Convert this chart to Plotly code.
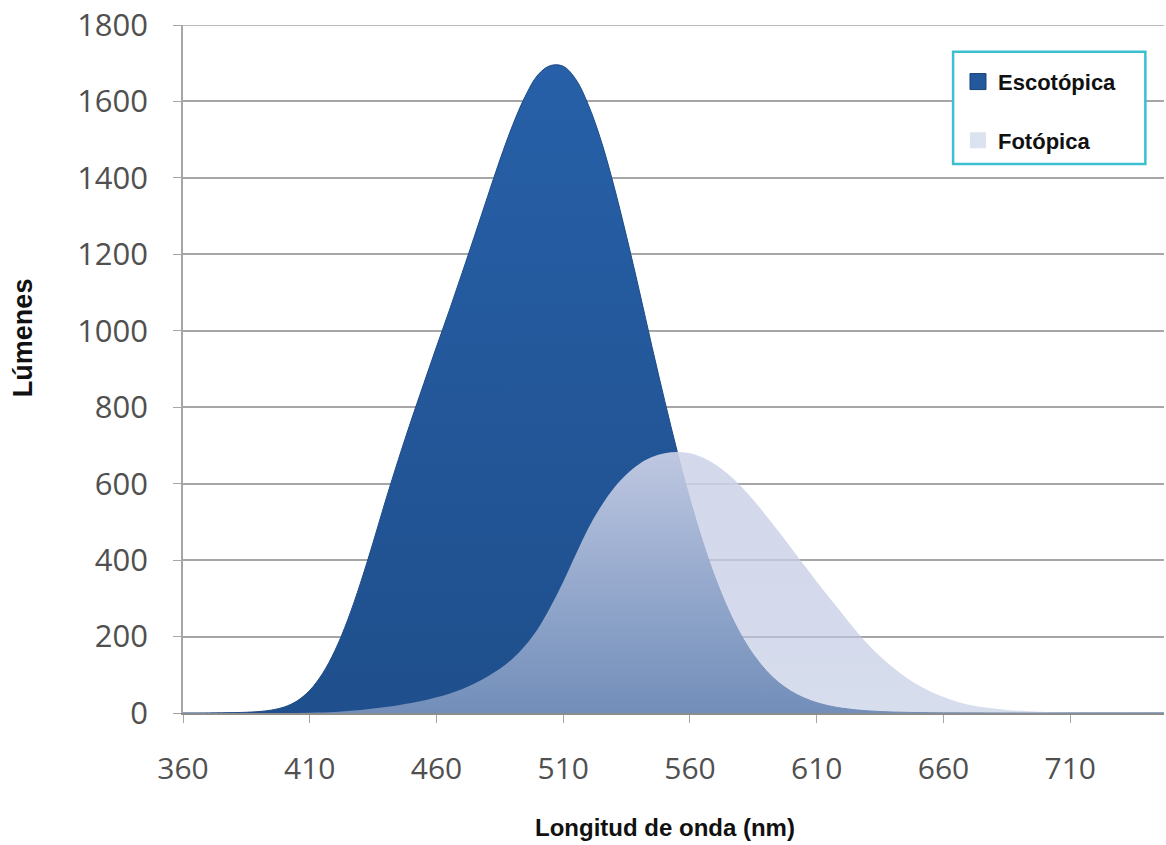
import plotly.graph_objects as go

# Escotópica (scotopic) luminous efficacy, lm/W
wl_scot = [360, 370, 380, 385, 390, 395, 400, 405, 410, 415, 420, 425, 430, 435, 440, 445,
           450, 455, 460, 465, 470, 475, 480, 485, 490, 495, 500, 505, 510, 515, 520,
           525, 530, 535, 540, 545, 550, 555, 560, 565, 570, 575, 580, 585, 590, 595,
           600, 605, 610, 615, 620, 625, 630, 635, 640, 645, 650, 655, 660, 680, 700, 747]
lum_scot = [0, 0.2, 1.0, 1.9, 3.8, 7.7, 15.8, 31.5, 59.2, 102.7, 164.2, 244.1, 339.7, 446.3,
            557.8, 664, 765, 862, 958, 1052, 1149.2, 1247.8, 1348.1, 1446.7,
            1536.8, 1613.3, 1669.4, 1694, 1692, 1657.5, 1589.5, 1496, 1378.7, 1246.1,
            1105, 958.8, 817.7, 683.4, 559, 448.6, 352.9, 272.3, 206, 152.8, 111.4, 79.7,
            56.4, 39.3, 27.1, 18.5, 12.5, 8.4, 5.7, 3.8, 2.5, 1.7, 1.2, 0.8, 0.5, 0.1, 0, 0]

# Fotópica (photopic) luminous efficacy, lm/W
wl_phot = [360, 370, 380, 390, 400, 410, 420, 425, 430, 435, 440, 445, 450, 455, 460, 465,
           470, 475, 480, 485, 490, 495, 500, 505, 510, 515, 520, 525, 530, 535, 540,
           545, 550, 555, 560, 565, 570, 575, 580, 585, 590, 595, 600, 605, 610, 615,
           620, 625, 630, 635, 640, 645, 650, 655, 660, 665, 670, 675, 680, 685, 690,
           695, 700, 710, 720, 730, 740, 747]
lum_phot = [0, 0.01, 0.03, 0.08, 0.27, 0.83, 2.73, 4.99, 7.92, 11.5, 15.7, 20.4, 26.0, 32.8,
            41.0, 50.5, 62.1, 76.9, 95.0, 115.6, 142.1, 176.6, 220.6, 278.2, 343.5, 415.4,
            484.9, 541.8, 588.7, 624.8, 651.6, 669.5, 679.5, 683.0, 679.6, 668.4, 650.2,
            625.2, 594.2, 557.5, 517.0, 474.6, 431.0, 387.1, 343.5, 301.3, 260.2, 219.2,
            181.0, 148.2, 119.5, 94.4, 73.1, 55.7, 41.7, 30.4, 21.9, 15.8, 11.6, 8.1, 5.6,
            3.9, 2.8, 1.4, 0.7, 0.4, 0.17, 0.1]

series_names = ["Escotópica", "Fotópica"]
x_ticks = [360, 410, 460, 510, 560, 610, 660, 710]
y_ticks = [0, 200, 400, 600, 800, 1000, 1200, 1400, 1600, 1800]

fig = go.Figure()
fig.add_trace(go.Scatter(
    x=wl_scot, y=lum_scot, name=series_names[0], mode="lines", showlegend=False,
    line=dict(shape="spline", smoothing=1.0, width=1, color="#1d4a86"),
    fill="tozeroy",
    fillgradient=dict(type="vertical",
                      colorscale=[[0, "#1f4f8c"], [1, "#2760a8"]])))
fig.add_trace(go.Scatter(
    x=wl_phot, y=lum_phot, name=series_names[1], mode="lines", showlegend=False,
    line=dict(shape="spline", smoothing=1.0, width=0, color="rgba(200,208,228,0)"),
    fill="tozeroy",
    fillgradient=dict(type="vertical",
                      colorscale=[[0, "rgba(182,194,222,0.55)"],
                                  [1, "rgba(208,212,233,0.9)"]])))

# legend entries (square swatches)
fig.add_trace(go.Scatter(x=[None], y=[None], mode="markers", name=series_names[0],
                         marker=dict(symbol="square", size=17, color="#24589c",
                                     line=dict(width=1, color="#1a3f75")),
                         legendgroup="a"))
fig.add_trace(go.Scatter(x=[None], y=[None], mode="markers", name=series_names[1],
                         marker=dict(symbol="square", size=17, color="#dde2f0",
                                     line=dict(width=0)),
                         legendgroup="b"))

grid = "#a6a6a6"
fig.update_layout(
    width=1166, height=845,
    margin=dict(l=183, r=2, t=25, b=132),
    paper_bgcolor="white", plot_bgcolor="white",
    showlegend=True,
    legend=dict(x=0.790, y=0.948, xanchor="left", yanchor="top",
                borderwidth=0, bgcolor="rgba(0,0,0,0)",
                font=dict(family="Liberation Sans", size=22, color="#111111", weight="bold"),
                traceorder="grouped", tracegroupgap=27, itemwidth=30),
    shapes=[
        dict(type="line", xref="paper", yref="y", x0=0, x1=1, y0=1800, y1=1800,
             line=dict(color=grid, width=1.5), layer="below"),
        dict(type="rect", xref="paper", yref="paper",
             x0=0.785, x1=0.981, y0=0.798, y1=0.961,
             line=dict(color="#3cbfd0", width=2.5), fillcolor="white", layer="above"),
    ],
    xaxis=dict(range=[360, 747], tickvals=x_ticks, showgrid=False, automargin=False,
               ticks="outside", ticklen=8, tickcolor=grid, showline=True,
               linecolor="#8c8c8c", linewidth=2, zeroline=False,
               tickfont=dict(family="Open Sans", size=30, color="#505050"),
               ticklabelstandoff=20, ticklabeloverflow="allow"),
    yaxis=dict(range=[0, 1800], tickvals=y_ticks, showgrid=True, gridcolor=grid,
               gridwidth=1.5, ticks="outside", ticklen=8, tickcolor=grid, automargin=False,
               showline=True, linecolor=grid, linewidth=1.5, zeroline=False,
               tickfont=dict(family="Open Sans", size=31, color="#505050"),
               ticklabelstandoff=19, ticklabeloverflow="allow"),
    annotations=[
        dict(text="Longitud de onda (nm)", xref="paper", yref="paper", x=0.491, y=-0.167,
             showarrow=False, xanchor="center", yanchor="middle",
             font=dict(family="Liberation Sans", size=24, color="#111111", weight="bold")),
        dict(text="Lúmenes", xref="paper", yref="paper", x=-0.163, y=0.545,
             showarrow=False, xanchor="center", yanchor="middle", textangle=-90,
             font=dict(family="Liberation Sans", size=27, color="#111111", weight="bold")),
    ],
)

# remove the default 8px body margin so the figure fills the window exactly
fig.write_html("out.html",
               config={"displayModeBar": False},
               post_script="document.body.style.margin='0px';document.body.style.overflow='hidden';")
